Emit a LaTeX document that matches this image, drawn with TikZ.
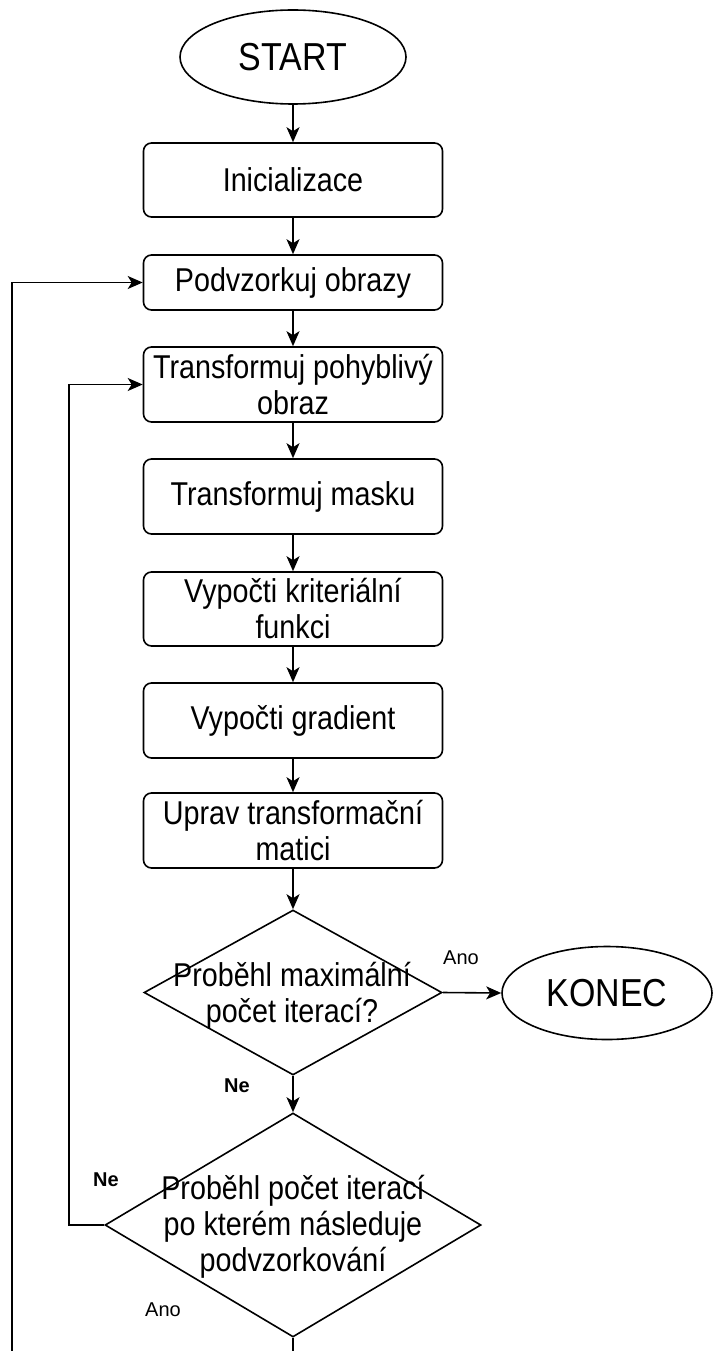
\documentclass[tikz,border=0pt]{standalone}
\usepackage{fontspec}
\setmainfont{Liberation Sans}[FakeStretch=0.87]
\newfontfamily\lblfont{Liberation Sans}
\usetikzlibrary{shapes.geometric,arrows.meta}

\tikzset{
  every picture/.style={line width=1.6pt},
  flow/.style={-{Stealth[length=15pt,width=13pt,inset=4pt]}},
  stepbox/.style={draw, rectangle, rounded corners=8pt, minimum width=299pt,
    inner sep=0pt, align=center, font=\fontsize{33}{36}\selectfont},
  terminal/.style={draw, ellipse, inner sep=0pt, font=\fontsize{39}{42}\selectfont},
  decision/.style={draw, diamond, inner sep=0pt},
  qtext/.style={align=center, inner sep=0pt, font=\fontsize{33}{36}\selectfont},
  yes/.style={inner sep=0pt, font=\lblfont\fontsize{20}{22}\selectfont},
  no/.style={inner sep=0pt, font=\lblfont\fontsize{20}{22}\selectfont\bfseries},
}

\begin{document}
\begin{tikzpicture}[x=1pt, y=-1pt]
  \useasboundingbox (0,0) rectangle (714,1351);

  % terminals
  \node[terminal, minimum width=226pt, minimum height=94pt] (start) at (293,57) {START};
  \node[terminal, minimum width=210pt, minimum height=93pt] (konec) at (607,993) {KONEC};

  % process steps
  \node[stepbox, minimum height=74pt] (init) at (293,180) {Inicializace};
  \node[stepbox, minimum height=55pt] (podv) at (293,282.5) {Podvzorkuj obrazy};
  \node[stepbox, minimum height=75pt] (tpoh) at (293,384.5) {Transformuj pohyblivý\\obraz};
  \node[stepbox, minimum height=75pt] (tmask) at (293,496.5) {Transformuj masku};
  \node[stepbox, minimum height=74pt] (krit) at (293,609) {Vypočti kriteriální\\funkci};
  \node[stepbox, minimum height=75pt] (grad) at (293,720.5) {Vypočti gradient};
  \node[stepbox, minimum height=75pt] (upr) at (293,830.5) {Uprav transformační\\matici};

  % decisions
  \node[decision, minimum width=298pt, minimum height=165pt] (d1) at (293,992.5) {};
  \node[qtext] (d1t) at (292,996) {Proběhl maximální\\počet iterací?};
  \node[decision, minimum width=376pt, minimum height=224pt] (d2) at (293,1225) {};
  \node[qtext] (d2t) at (293,1227) {Proběhl počet iterací\\po kterém následuje\\podvzorkování};

  % loose ends running off the lower edge
  \coordinate (outA) at (d2.south |- 0,1351);
  \coordinate (outB) at (12,1351);
  \coordinate (loopN) at (69,1225);

  % main chain
  \draw[flow] (start) -- (init);
  \draw[flow] (init) -- (podv);
  \draw[flow] (podv) -- (tpoh);
  \draw[flow] (tpoh) -- (tmask);
  \draw[flow] (tmask) -- (krit);
  \draw[flow] (krit) -- (grad);
  \draw[flow] (grad) -- (upr);
  \draw[flow] (upr) -- (d1.north);
  \draw[flow] (d1.east) -- (konec.west);
  \draw[flow] (d1.south) -- (d2.north);
  \draw (d2.south) -- (outA);

  % feedback loops
  \draw[flow] (d2.west) -- (loopN) -- (loopN |- tpoh.west) -- (tpoh.west);
  \draw[flow] (outB) -- (outB |- podv.west) -- (podv.west);

  % branch labels
  \node[yes] (ano1) at (461,958) {Ano};
  \node[no] (ne1) at (237,1086) {Ne};
  \node[no] (ne2) at (106,1180) {Ne};
  \node[yes] (ano2) at (163,1310) {Ano};
\end{tikzpicture}
\end{document}
